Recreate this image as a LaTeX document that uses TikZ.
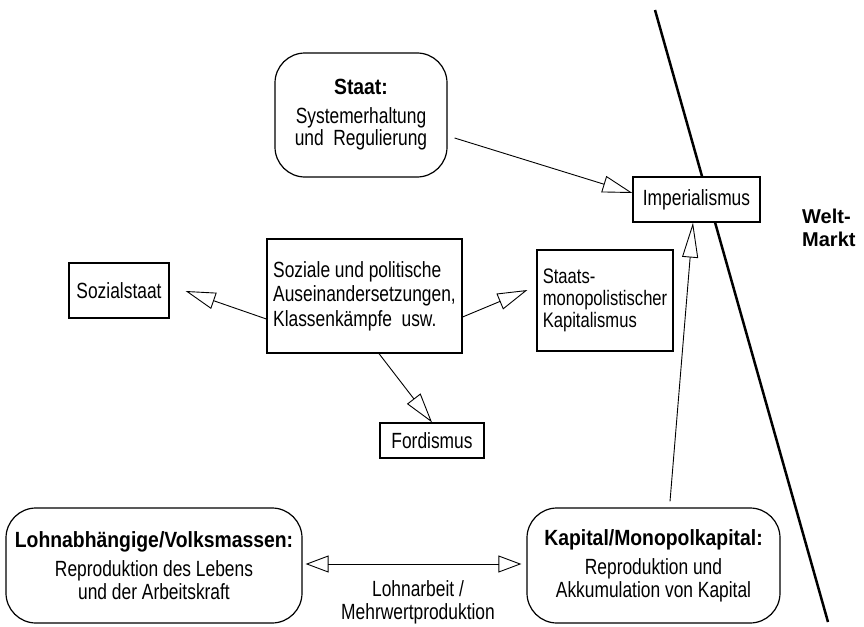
\documentclass[tikz,border=0pt]{standalone}
\usepackage{fontspec}
\setmainfont{Liberation Sans}[FakeStretch=0.79, BoldFeatures={FakeStretch=0.88}]
\newfontfamily\weltfont{Liberation Sans}
\usetikzlibrary{arrows.meta,calc}
\begin{document}
\begin{tikzpicture}[x=1pt,y=-1pt,
  txt/.style={font=\fontsize{22}{24.5}\selectfont},
  box/.style={txt, draw, line width=1.2pt, rectangle, inner sep=0pt, fill=white},
  rbox/.style={box, rounded corners=30pt, align=center, font=\fontsize{22}{22.5}\selectfont},
  lbox/.style={box, align=left},
  conn/.style={line width=0.9pt, -{Triangle[open,length=30pt,width=17pt]}},
  dconn/.style={line width=0.9pt, {Triangle[open,length=23pt,width=17pt]}-{Triangle[open,length=23pt,width=17pt]}},
  welt/.style={line width=2.5pt},
  weltlabel/.style={font=\weltfont\bfseries\fontsize{20}{23}\selectfont, align=left, anchor=west, inner sep=0pt}
]
\useasboundingbox (0,0) rectangle (864,626);

% world market line (behind boxes)
\coordinate (wtop) at (655,10);
\coordinate (wbot) at (828,622);
\draw[welt] (wtop) -- (wbot);

% nodes
\node[rbox, minimum width=172pt, minimum height=124pt] (staat) at (361,115)
  {\textbf{Staat:}\\[6pt]Systemerhaltung\\und~ Regulierung};
\node[box, minimum width=127pt, minimum height=45pt] (imp) at (696.5,199.5) {Imperialismus};
\node[box, minimum width=100pt, minimum height=55pt] (sozial) at (119,290.5) {Sozialstaat};
\node[lbox, minimum width=195pt, minimum height=114pt] (mid) at (364.5,296)
  {Soziale und politische\\Auseinandersetzungen,\\Klassenkämpfe~ usw.};
\node[lbox, minimum width=136pt, minimum height=101pt, font=\fontsize{21}{22}\selectfont] (smk) at (605,300.5)
  {Staats-\\monopolistischer\\Kapitalismus};
\node[box, minimum width=104pt, minimum height=35pt] (ford) at (432,440.5) {Fordismus};
\node[rbox, minimum width=296pt, minimum height=115pt] (lohn) at (154,565.5)
  {\textbf{Lohnabhängige/Volksmassen:}\\[7pt]Reproduktion des Lebens\\und der Arbeitskraft};
\node[rbox, minimum width=253pt, minimum height=115pt] (kap) at (653.5,565.5)
  {\textbf{Kapital/Monopolkapital:}\\[7pt]Reproduktion und\\Akkumulation von Kapital};
\node[txt, align=center, font=\fontsize{22}{23}\selectfont] (lab) at (418,602)
  {Lohnarbeit /\\Mehrwertproduktion};
\node[weltlabel] (wm) at (802,228) {Welt-\\Markt};

% connectors
\draw[conn] ($(staat.east)+(7,23)$) -- ($(imp.west)+(0,-6.5)$);
\draw[conn] ($(mid.west)+(0,23)$) -- ($(sozial.east)+(16,0.5)$);
\draw[conn] ($(mid.east)+(0,21)$) -- ($(smk.west)+(-9,-10.5)$);
\draw[conn] ($(mid.south)+(14.5,0)$) -- (ford.north);
\draw[line width=0.9pt, -{Triangle[open,length=35pt,width=16pt]}] ($(kap.north)+(16.5,-6)$) -- ($(imp.south)+(-3.5,0)$);
\draw[dconn] ($(lohn.east)+(3,-1.5)$) -- ($(kap.west)+(-5,-1.5)$);
\end{tikzpicture}
\end{document}
